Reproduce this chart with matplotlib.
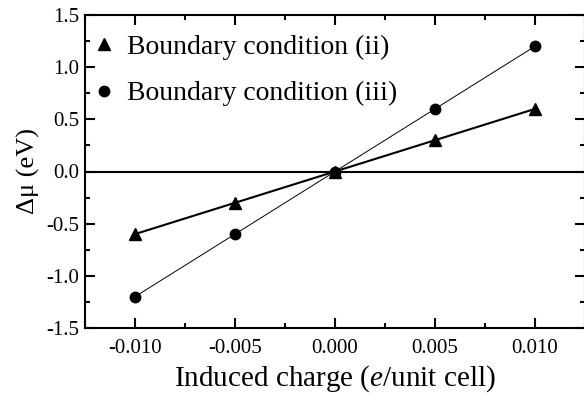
import matplotlib
matplotlib.use("Agg")
import matplotlib.pyplot as plt
from matplotlib.ticker import MultipleLocator

plt.rcParams['font.family'] = ['Liberation Serif', 'DejaVu Serif']
plt.rcParams['mathtext.fontset'] = 'custom'
plt.rcParams['mathtext.rm'] = 'Liberation Serif'
plt.rcParams['mathtext.it'] = 'Liberation Serif:italic'

charge = [-0.010, -0.005, 0.000, 0.005, 0.010]
bc_ii = [-0.6, -0.3, 0.0, 0.3, 0.6]
bc_iii = [-1.2, -0.6, 0.0, 0.6, 1.2]
labels = ["Boundary condition (ii)", "Boundary condition (iii)"]

fig = plt.figure(figsize=(5.84, 3.95), dpi=100)
ax = fig.add_axes([85/584, 1 - 328/395, 500/584, (328-15)/395])

ax.axhline(0, color='black', lw=1.5, zorder=1)
ax.plot(charge, bc_ii, color='black', lw=1.5, marker='^', ms=8, label=labels[0], zorder=3)
ax.plot(charge, bc_iii, color='black', lw=0.7, marker='o', ms=7.5, label=labels[1], zorder=3)

ax.set_xlim(-0.0125, 0.0125)
ax.set_ylim(-1.5, 1.5)
ax.xaxis.set_minor_locator(MultipleLocator(0.0025))
ax.yaxis.set_minor_locator(MultipleLocator(0.25))
ax.set_xticks([-0.010, -0.005, 0.0, 0.005, 0.010])
ax.set_xticklabels(["-0.010", "-0.005", "0.000", "0.005", "0.010"])
ax.set_yticks([-1.5, -1.0, -0.5, 0.0, 0.5, 1.0, 1.5])
ax.set_yticklabels(["-1.5", "-1.0", "-0.5", "0.0", "0.5", "1.0", "1.5"])
ax.tick_params(which='both', direction='in', top=True, right=True, labelsize=15, width=1.5)
ax.tick_params(which='major', length=7)
ax.tick_params(which='minor', length=3.5)
ax.tick_params(axis='x', which='major', pad=8)
ax.tick_params(axis='y', which='major', pad=4)
for s in ax.spines.values():
    s.set_linewidth(1.5)

ax.set_xlabel("Induced charge ($\\mathit{e}$/unit cell)", fontsize=21, labelpad=4)
ax.set_ylabel("Δμ (eV)", fontsize=19, labelpad=5)

leg = ax.legend(loc='upper left', bbox_to_anchor=(0.0, 1 - 14/313), frameon=False,
                fontsize=20, handlelength=1.0, handletextpad=0.31, borderaxespad=0.0,
                labelspacing=0.75, borderpad=0.2)
for h in leg.legend_handles:
    h.set_linestyle('none')

fig.savefig("out.png", dpi=100)
